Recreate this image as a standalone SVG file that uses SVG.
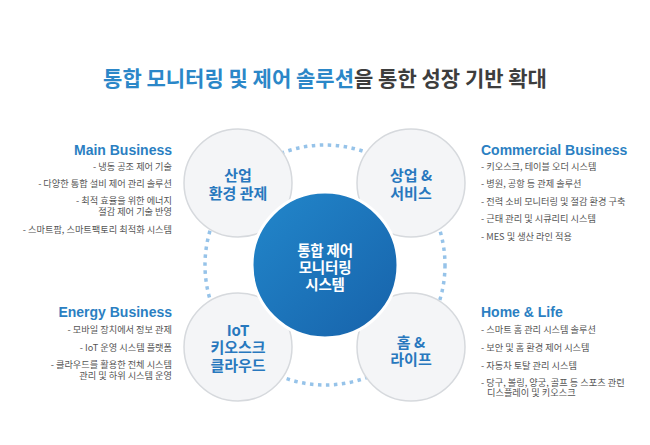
<svg xmlns="http://www.w3.org/2000/svg" width="650" height="445" viewBox="0 0 650 445">
<defs>
<linearGradient id="cg" x1="0" y1="0" x2="1" y2="1">
<stop offset="0" stop-color="#2287cb"/>
<stop offset="1" stop-color="#1762aa"/>
</linearGradient>
<style>
.t{font-family:"Noto Sans CJK KR","Noto Sans",sans-serif;}
.title{font-size:21px;font-weight:700;letter-spacing:0px;}
.sat{fill:#f4f5f7;stroke:#d6d9dd;stroke-width:1.5;}
.satt{font-family:"Noto Sans CJK KR",sans-serif;font-size:15px;font-weight:700;fill:#2878be;text-anchor:middle;}
.ct{font-family:"Noto Sans CJK KR",sans-serif;font-size:14.5px;font-weight:700;fill:#ffffff;letter-spacing:-0.2px;text-anchor:middle;}
.hd{font-family:"Liberation Sans",Arial,sans-serif;font-size:14px;font-weight:700;fill:#2b7fc2;}
.it{font-family:"Noto Sans CJK KR",sans-serif;font-size:9.2px;fill:#555555;}
.r{text-anchor:end;}
</style>
</defs>
<rect width="650" height="445" fill="#ffffff"/>
<text class="t title" x="325" y="86" text-anchor="middle"><tspan fill="#2b87c8">통합 모니터링 및 제어 솔루션</tspan><tspan fill="#3d3d3d">을 통한 성장 기반 확대</tspan></text>
<g id="connectors">
<circle cx="325" cy="265" r="120" fill="none" stroke="#96c3e9" stroke-width="3.5" stroke-dasharray="3.5 4.5"/>
</g>
<g id="node-industrial">
<circle class="sat" cx="238" cy="183" r="54"/>
<text class="satt" x="238" y="181">산업</text>
<text class="satt" x="238" y="199">환경 관제</text>
</g>
<g id="node-commercial">
<circle class="sat" cx="411" cy="183" r="54"/>
<text class="satt" x="411" y="181">상업 &amp;</text>
<text class="satt" x="411" y="199">서비스</text>
</g>
<g id="node-iot">
<circle class="sat" cx="238" cy="347" r="54"/>
<text class="satt" x="238" y="336">IoT</text>
<text class="satt" x="238" y="353">키오스크</text>
<text class="satt" x="238" y="371">클라우드</text>
</g>
<g id="node-home">
<circle class="sat" cx="411" cy="347" r="54"/>
<text class="satt" x="411" y="348">홈 &amp;</text>
<text class="satt" x="411" y="365">라이프</text>
</g>
<g id="node-center">
<circle cx="325" cy="265" r="73" fill="url(#cg)" stroke="#ffffff" stroke-width="3"/>
<text class="ct" x="325" y="256">통합 제어</text>
<text class="ct" x="325" y="273">모니터링</text>
<text class="ct" x="325" y="290">시스템</text>
</g>
<g id="main-business">
<text class="hd r" x="172" y="155">Main Business</text>
<text class="it r" x="172" y="169.5">- 냉동 공조 제어 기술</text>
<text class="it r" x="172" y="186.5">- 다양한 통합 설비 제어 관리 솔루션</text>
<text class="it r" x="172" y="204">- 최적 효율을 위한 에너지</text>
<text class="it r" x="172" y="215">절감 제어 기술 반영</text>
<text class="it r" x="172" y="232.5">- 스마트팜, 스마트팩토리 최적화 시스템</text>
</g>
<g id="commercial-business">
<text class="hd" x="481" y="155">Commercial Business</text>
<text class="it" x="481" y="170">- 키오스크, 테이블 오더 시스템</text>
<text class="it" x="481" y="187">- 병원, 공항 등 관제 솔루션</text>
<text class="it" x="481" y="204.5">- 전력 소비 모니터링 및 절감 환경 구축</text>
<text class="it" x="481" y="222">- 근태 관리 및 시큐리티 시스템</text>
<text class="it" x="481" y="239.5">- MES 및 생산 라인 적용</text>
</g>
<g id="energy-business">
<text class="hd r" x="172" y="317">Energy Business</text>
<text class="it r" x="172" y="332.5">- 모바일 장치에서 정보 관제</text>
<text class="it r" x="172" y="350.5">- IoT 운영 시스템 플랫폼</text>
<text class="it r" x="172" y="367.5">- 클라우드를 활용한 전체 시스템</text>
<text class="it r" x="172" y="378.5">관리 및 하위 시스템 운영</text>
</g>
<g id="home-life">
<text class="hd" x="481" y="317">Home &amp; Life</text>
<text class="it" x="481" y="333">- 스마트 홈 관리 시스템 솔루션</text>
<text class="it" x="481" y="351">- 보안 및 홈 환경 제어 시스템</text>
<text class="it" x="481" y="368.5">- 자동차 토탈 관리 시스템</text>
<text class="it" x="481" y="386">- 당구, 볼링, 양궁, 골프 등 스포츠 관련</text>
<text class="it" x="487" y="396">디스플레이 및 키오스크</text>
</g>
</svg>
